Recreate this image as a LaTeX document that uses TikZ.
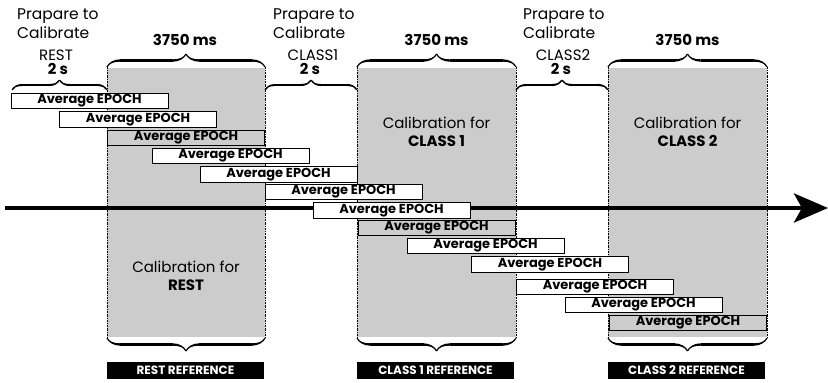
\documentclass[tikz,border=0pt]{standalone}
\usepackage{fontspec}
\setmainfont{Poppins}
\usetikzlibrary{decorations.pathreplacing,arrows.meta,calligraphy}
\definecolor{calgray}{gray}{0.8}
\tikzset{
  epoch/.style={draw=black, line width=1pt, fill=white, minimum width=157pt, minimum height=15.5pt, inner sep=0pt, font=\bfseries\fontsize{13}{13}\selectfont},
  epochg/.style={epoch, fill=calgray},
  calregion/.style={fill=calgray, draw=none},
  caledge/.style={line width=0.8pt, dash pattern=on 2pt off 1pt on 0.6pt off 1pt},
  bigbrace/.style={decorate, decoration={calligraphic brace, amplitude=13pt}, line width=2.4pt},
  smallbrace/.style={decorate, decoration={calligraphic brace, amplitude=10pt}, line width=2.2pt},
  preptext/.style={anchor=base west, inner sep=0pt, font=\fontsize{15.5}{15.5}\selectfont},
  classtext/.style={anchor=base, inner sep=0pt, text height=10.5pt, text depth=0pt, font=\fontsize{15}{15}\selectfont},
  durtext/.style={anchor=base, inner sep=0pt, text height=10.5pt, text depth=0pt, font=\bfseries\fontsize{15}{15}\selectfont},
  caltext/.style={anchor=base, inner sep=0pt, font=\fontsize{15}{15}\selectfont},
  reflabel/.style={fill=black, text=white, minimum width=157pt, minimum height=16.5pt, inner sep=0pt, font=\bfseries\fontsize{12}{12}\selectfont},
}
\begin{document}
\begin{tikzpicture}[x=1pt,y=-1pt]
\useasboundingbox (0,0) rectangle (828,383);
% gray calibration regions
\fill[calregion] (107,68) rectangle (265,337);
\fill[calregion] (357,68) rectangle (516,337);
\fill[calregion] (608,68) rectangle (767,337);
\foreach \x in {107,265,357,516,608,767}{
  \coordinate (et\x) at (\x,67);
  \coordinate (eb\x) at (\x,337);
  \draw[caledge] (et\x) -- (eb\x);
}
% braces top (3750 ms)
\draw[bigbrace] (107,67) -- (265,67);
\draw[bigbrace] (357,67) -- (516,67);
\draw[bigbrace] (608,67) -- (767,67);
\node[durtext] (d1) at (185,45) {3750 ms};
\node[durtext] (d2) at (436.5,45) {3750 ms};
\node[durtext] (d3) at (687.5,45) {3750 ms};
% braces 2 s
\draw[smallbrace] (12,90) -- (107,90);
\draw[smallbrace] (265,90) -- (357,90);
\draw[smallbrace] (516,90) -- (608,90);
\node[durtext] (s1) at (58,74) {2 s};
\node[durtext] (s2) at (310,74) {2 s};
\node[durtext] (s3) at (561,74) {2 s};
% prepare texts
\node[preptext] (p1a) at (17,19) {Prapare to};
\node[preptext] (p1b) at (17,38.5) {Calibrate};
\node[preptext] (p2a) at (273,19) {Prapare to};
\node[preptext] (p2b) at (273,38.5) {Calibrate};
\node[preptext] (p3a) at (523,19) {Prapare to};
\node[preptext] (p3b) at (523,38.5) {Calibrate};
\node[classtext] (c1) at (56,60) {REST};
\node[classtext] (c2) at (313,60) {CLASS1};
\node[classtext] (c3) at (563,60) {CLASS2};
% calibration texts
\node[caltext] (cal1a) at (186,272) {Calibration for};
\node[caltext] (cal1b) at (186,290) {\bfseries REST};
\node[caltext] (cal2a) at (436.5,128) {Calibration for};
\node[caltext] (cal2b) at (436.5,146) {\bfseries CLASS 1};
\node[caltext] (cal3a) at (687.5,128) {Calibration for};
\node[caltext] (cal3b) at (687.5,146) {\bfseries CLASS 2};
% time axis
\coordinate (axL) at (5,208);
\coordinate (axR) at (828,208);
\draw[line width=4.5pt, -{Stealth[length=34pt, width=29pt, inset=8pt]}] (axL) -- (axR);
% epochs
\node[epoch]  (e1)  at (89.5,101)  {Average EPOCH};
\node[epoch]  (e2)  at (138,119.5) {Average EPOCH};
\node[epochg] (e3)  at (186,138)   {Average EPOCH};
\node[epoch]  (e4)  at (230.5,156) {Average EPOCH};
\node[epoch]  (e5)  at (278.5,174.5) {Average EPOCH};
\node[epoch]  (e6)  at (343.5,192) {Average EPOCH};
\node[epoch]  (e7)  at (391.5,210.5) {Average EPOCH};
\node[epochg] (e8)  at (436.5,228) {Average EPOCH};
\node[epoch]  (e9)  at (485.5,246) {Average EPOCH};
\node[epoch]  (e10) at (550,264.5) {Average EPOCH};
\node[epoch]  (e11) at (595,287)   {Average EPOCH};
\node[epoch]  (e12) at (643.5,305) {Average EPOCH};
\node[epochg] (e13) at (688,323)   {Average EPOCH};
% braces bottom
\draw[bigbrace] (265,338) -- (107,338);
\draw[bigbrace] (516,338) -- (357,338);
\draw[bigbrace] (767,338) -- (608,338);
% reference labels
\node[reflabel] (r1) at (185.5,370.5) {REST REFERENCE};
\node[reflabel] (r2) at (435.5,370.5) {CLASS 1 REFERENCE};
\node[reflabel] (r3) at (686.5,370.5) {CLASS 2 REFERENCE};
\end{tikzpicture}
\end{document}
